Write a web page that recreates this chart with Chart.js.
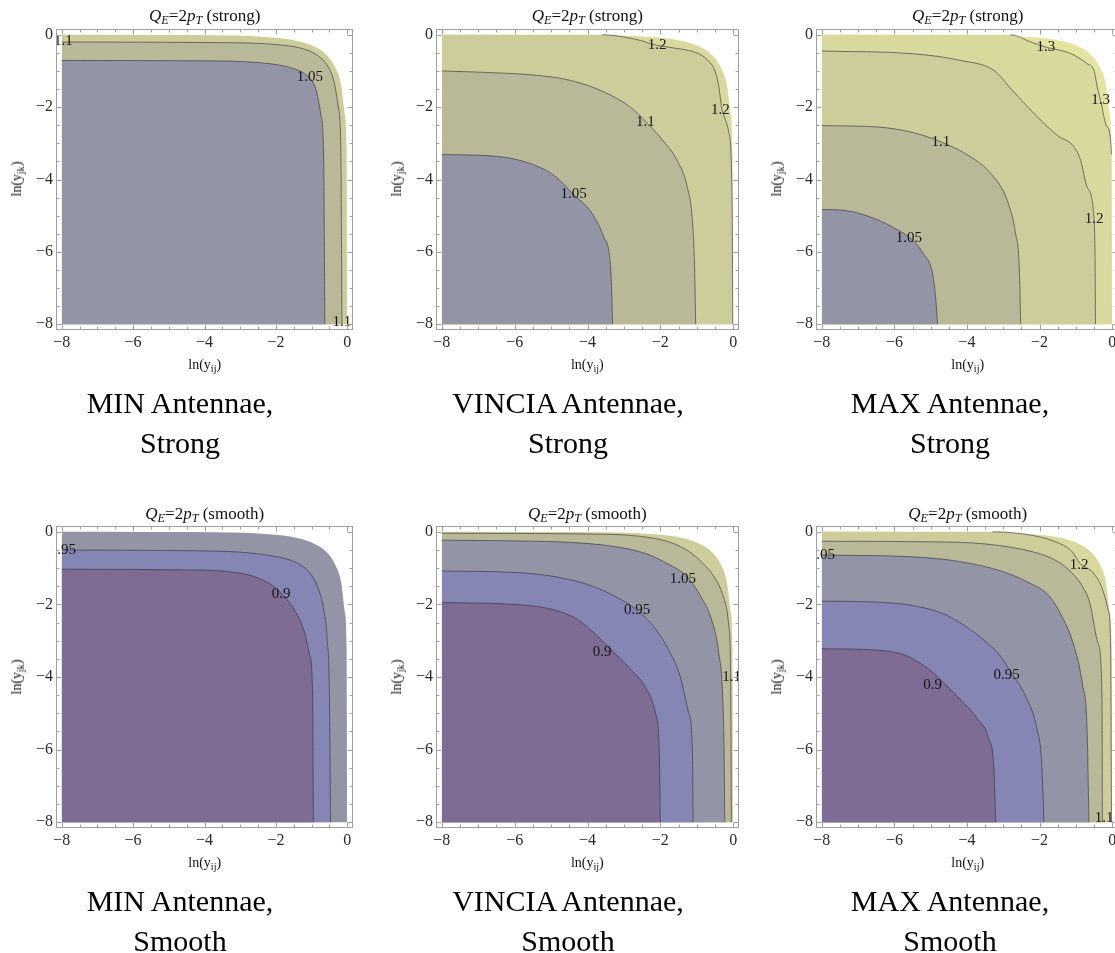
<!DOCTYPE html>
<html>
<head>
<meta charset="utf-8">
<script src="https://cdn.jsdelivr.net/npm/chart.js@4/dist/chart.umd.min.js"></script>
<style>
  body { margin: 0; background: #fff; }
  #page { position: relative; width: 1115px; height: 953px; overflow: hidden; background: #fff;
          font-family: "Liberation Serif", "Times New Roman", serif; color: #111; }
  canvas { position: absolute; }
  .txt { position: absolute; white-space: nowrap; transform: translateX(-50%); }
  .ttl { font-size: 17px; line-height: 17px; }
  .axl { font-size: 14px; line-height: 14px; }
  .cap { font-size: 30px; line-height: 30px; color: #000; }
  sub { font-size: 72%; vertical-align: -0.28em; line-height: 0; }
  .rot { transform: translate(-50%, -50%) rotate(-90deg); }
</style>
</head>
<body>
<div id="page"></div>
<script>
// tick values on every axis
const majorTicks = [-8, -6, -4, -2, 0];
const minorTicks = [-7.5, -7, -6.5, -5.5, -5, -4.5, -3.5, -3, -2.5, -1.5, -1, -0.5];

// captions and titles
const antennaNames = ['MIN Antennae,', 'VINCIA Antennae,', 'MAX Antennae,'];
const captionKinds = ['Strong', 'Smooth'];
const titleKinds = ['strong', 'smooth'];

// outer edge of the phase space (white beyond it)
const edge = [[-8,0],[-3.2,-0.02],[-2.2,-0.07],[-1.4,-0.17],[-0.9,-0.34],[-0.57,-0.57],[-0.34,-0.9],[-0.17,-1.4],[-0.07,-2.2],[-0.02,-3.2],[0,-8]];

// MIN antennae, strong
const minStrong105 = [[-8,-0.71],[-4.2,-0.72],[-2.6,-0.76],[-1.7,-0.88],[-1.3,-1.02],[-1.05,-1.2],[-0.88,-1.5],[-0.74,-2.2],[-0.66,-3.5],[-0.63,-8]];
const minStrong110 = [[-8,-0.2],[-3.2,-0.22],[-2.0,-0.27],[-1.3,-0.37],[-0.85,-0.56],[-0.56,-0.85],[-0.37,-1.3],[-0.25,-2.0],[-0.18,-3.2],[-0.15,-8]];
const minStrongLabels = [['1.1',-7.95,-0.17],['1.05',-1.05,-1.17],['1.1',-0.15,-7.93]];

// VINCIA antennae, strong
const vinStrong105 = [[-8,-3.31],[-6.5,-3.36],[-5.6,-3.55],[-4.9,-3.9],[-4.4,-4.4],[-3.9,-4.9],[-3.55,-5.6],[-3.36,-6.5],[-3.31,-8]];
const vinStrong110 = [[-8,-1.0],[-6.3,-1.06],[-5.4,-1.12],[-4.47,-1.26],[-3.55,-1.58],[-2.82,-2.0],[-2.4,-2.4],[-1.95,-2.9],[-1.54,-3.47],[-1.26,-4.21],[-1.12,-5.13],[-1.06,-6.42],[-1.03,-8]];
const vinStrong120 = [[-8,0],[-3.6,0],[-2.7,-0.12],[-2.09,-0.29],[-1.4,-0.4],[-1.0,-0.5],[-0.7,-0.7],[-0.5,-1.0],[-0.4,-1.4],[-0.3,-2.09],[-0.12,-2.7],[-0.03,-4.5],[-0.01,-8]];
const vinStrongLabels = [['1.2',-2.09,-0.29],['1.2',-0.35,-2.09],['1.1',-2.41,-2.41],['1.05',-4.38,-4.39]];

// MAX antennae, strong
const maxStrong105 = [[-8,-4.83],[-7.4,-4.85],[-6.5,-5.1],[-5.9,-5.4],[-5.54,-5.64],[-5.2,-6.05],[-4.95,-6.6],[-4.86,-7.3],[-4.81,-8]];
const maxStrong110 = [[-8,-2.51],[-6.46,-2.55],[-5.54,-2.69],[-4.72,-2.96],[-3.89,-3.38],[-3.34,-3.84],[-2.89,-4.58],[-2.66,-5.5],[-2.56,-6.42],[-2.52,-8]];
const maxStrong120 = [[-8,-0.45],[-5.54,-0.52],[-4.17,-0.71],[-3.25,-0.99],[-2.79,-1.49],[-2.15,-2.18],[-1.51,-2.78],[-1.05,-3.1],[-0.87,-3.47],[-0.69,-4.21],[-0.5,-5.08],[-0.47,-6.42],[-0.46,-8]];
const maxStrong130 = [[-8,0],[-2.8,0],[-2.24,-0.2],[-1.83,-0.34],[-1.14,-0.52],[-0.69,-0.8],[-0.5,-0.99],[-0.41,-1.45],[-0.32,-1.81],[-0.14,-2.55],[-0.02,-3.3],[0,-8]];
const maxStrongLabels = [['1.3',-1.83,-0.34],['1.3',-0.32,-1.81],['1.1',-4.72,-2.96],['1.2',-0.5,-5.08],['1.05',-5.6,-5.62]];

// MIN antennae, smooth
const minSmooth090 = [[-8,-1.03],[-4.5,-1.05],[-3.3,-1.1],[-2.5,-1.27],[-2.0,-1.55],[-1.7,-1.85],[-1.45,-2.2],[-1.22,-2.7],[-1.05,-3.4],[-0.97,-4.5],[-0.95,-8]];
const minSmooth095 = [[-8,-0.5],[-4.5,-0.52],[-3.0,-0.56],[-2.2,-0.65],[-1.6,-0.78],[-1.25,-0.95],[-1.0,-1.2],[-0.8,-1.6],[-0.65,-2.2],[-0.56,-3.0],[-0.5,-4.5],[-0.47,-8]];
const minSmoothLabels = [['0.95',-7.97,-0.5],['0.9',-1.85,-1.72]];

// VINCIA antennae, smooth
const vinSmooth090 = [[-8,-1.95],[-6,-2.0],[-5,-2.13],[-4.3,-2.4],[-3.75,-2.85],[-3.3,-3.3],[-2.85,-3.75],[-2.4,-4.3],[-2.13,-5],[-2.03,-6],[-2.0,-8]];
const vinSmooth095 = [[-8,-1.08],[-6,-1.12],[-5,-1.22],[-4,-1.45],[-3.2,-1.8],[-2.64,-2.16],[-2.16,-2.64],[-1.8,-3.2],[-1.45,-4],[-1.22,-5],[-1.12,-6],[-1.1,-8]];
const vinSmooth105 = [[-8,-0.23],[-6,-0.25],[-4.5,-0.29],[-3.3,-0.4],[-2.4,-0.6],[-1.8,-0.88],[-1.25,-1.25],[-0.88,-1.8],[-0.6,-2.4],[-0.4,-3.3],[-0.29,-4.5],[-0.25,-6],[-0.23,-8]];
const vinSmooth110 = [[-8,-0.04],[-4,-0.06],[-2.6,-0.12],[-1.7,-0.3],[-1.2,-0.55],[-0.85,-0.85],[-0.55,-1.2],[-0.3,-1.7],[-0.12,-2.6],[-0.07,-4],[-0.05,-8]];
const vinSmoothLabels = [['1.05',-1.38,-1.3],['0.95',-2.64,-2.16],['0.9',-3.6,-3.31],['1.1',-0.04,-4.0]];

// MAX antennae, smooth
const maxSmooth090 = [[-8,-3.22],[-6.5,-3.26],[-5.7,-3.4],[-5.1,-3.75],[-4.7,-4.1],[-4.4,-4.4],[-4.1,-4.7],[-3.75,-5.1],[-3.4,-5.7],[-3.26,-6.5],[-3.21,-8]];
const maxSmooth095 = [[-8,-1.91],[-6.4,-1.94],[-5.4,-2.05],[-4.6,-2.28],[-3.9,-2.7],[-3.4,-3.1],[-3.1,-3.4],[-2.8,-3.85],[-2.35,-4.6],[-2.08,-5.4],[-1.94,-6.4],[-1.88,-8]];
const maxSmooth105 = [[-8,-0.64],[-5.5,-0.69],[-4.2,-0.82],[-3.0,-1.1],[-2.3,-1.4],[-1.75,-1.75],[-1.4,-2.3],[-1.1,-3.0],[-0.82,-4.2],[-0.69,-5.5],[-0.64,-8]];
const maxSmooth110 = [[-8,-0.26],[-4.6,-0.28],[-3.1,-0.38],[-1.95,-0.62],[-1.5,-0.82],[-1.12,-1.12],[-0.82,-1.5],[-0.62,-1.95],[-0.38,-3.1],[-0.28,-4.6],[-0.27,-8]];
const maxSmooth120 = [[-8,0],[-3.3,0],[-2.2,-0.1],[-1.5,-0.3],[-1.1,-0.55],[-0.88,-0.88],[-0.55,-1.1],[-0.3,-1.5],[-0.1,-2.2],[-0.04,-3.3],[-0.02,-8]];
const maxSmoothLabels = [['1.05',-8.0,-0.64],['1.2',-0.91,-0.92],['0.95',-2.91,-3.95],['0.9',-4.95,-4.21],['1.1',-0.22,-7.88]];

// region colours, from low to high values
const cPurple = '#7e6c94';
const cBlue = '#8686b4';
const cGray = '#9494a7';
const cOlive = '#b9b899';
const cKhaki = '#cdcc9b';
const cYellow = '#dad99d';
const cPale = '#e4e3a0';
const lineColor = 'rgba(45,45,55,0.6)';
const frameColor = '#a0a0a0';

// panel layout (pixel of x=-8 / y=0 and pixels per unit)
const cols = [{x0: 61.7, sx: 35.75}, {x0: 441.7, sx: 36.4}, {x0: 822.3, sx: 36.35}];
const rows = [{y0: 34.3, sy: 36.2}, {y0: 531.7, sy: 36.25}];
const capCenters = [180, 568, 950];
const capBase = [413, 911];

const panels = [
  {col: 0, row: 0, outer: cKhaki, lines: [[minStrong105, cGray], [minStrong110, cOlive]], labels: minStrongLabels},
  {col: 1, row: 0, outer: cYellow, lines: [[vinStrong105, cGray], [vinStrong110, cOlive], [vinStrong120, cKhaki]], labels: vinStrongLabels},
  {col: 2, row: 0, outer: cPale, lines: [[maxStrong105, cGray], [maxStrong110, cOlive], [maxStrong120, cKhaki], [maxStrong130, cYellow]], labels: maxStrongLabels},
  {col: 0, row: 1, outer: cGray, lines: [[minSmooth090, cPurple], [minSmooth095, cBlue]], labels: minSmoothLabels},
  {col: 1, row: 1, outer: cKhaki, lines: [[vinSmooth090, cPurple], [vinSmooth095, cBlue], [vinSmooth105, cGray], [vinSmooth110, cOlive]], labels: vinSmoothLabels},
  {col: 2, row: 1, outer: cYellow, lines: [[maxSmooth090, cPurple], [maxSmooth095, cBlue], [maxSmooth105, cGray], [maxSmooth110, cOlive], [maxSmooth120, cKhaki]], labels: maxSmoothLabels}
];

Chart.defaults.font.family = '"Liberation Serif", "Times New Roman", serif';

const page = document.getElementById('page');
const fmt = v => (v < 0 ? '\u2212' + Math.abs(v) : String(v));
const toXY = pts => pts.map(q => ({x: q[0], y: q[1]}));

// hide the stroke where a contour runs along the plot edge
function edgeSeg(ctx) {
  const a = ctx.p0.parsed, b = ctx.p1.parsed;
  if (Math.abs(a.y) < 0.03 && Math.abs(b.y) < 0.03) return 'rgba(0,0,0,0)';
  if (Math.abs(a.x) < 0.03 && Math.abs(b.x) < 0.03) return 'rgba(0,0,0,0)';
  return undefined;
}

// frame with inward ticks on all four sides
const framePlugin = {
  id: 'frame',
  afterDraw(chart) {
    const {ctx, chartArea: a, scales: {x, y}} = chart;
    const L = Math.round(a.left) + 0.5, R = Math.round(a.right) - 0.5;
    const T = Math.round(a.top) + 0.5, B = Math.round(a.bottom) - 0.5;
    ctx.save();
    ctx.strokeStyle = frameColor;
    ctx.lineWidth = 1;
    ctx.strokeRect(L, T, R - L, B - T);
    ctx.beginPath();
    const mark = (v, len) => {
      const px = Math.round(x.getPixelForValue(v)) + 0.5;
      ctx.moveTo(px, B); ctx.lineTo(px, B - len);
      ctx.moveTo(px, T); ctx.lineTo(px, T + len);
      const py = Math.round(y.getPixelForValue(v)) + 0.5;
      ctx.moveTo(L, py); ctx.lineTo(L + len, py);
      ctx.moveTo(R, py); ctx.lineTo(R - len, py);
    };
    majorTicks.forEach(v => mark(v, 5));
    minorTicks.forEach(v => mark(v, 3));
    ctx.stroke();
    ctx.restore();
  }
};

function labelPlugin(items) {
  return {
    id: 'contourLabels',
    afterDatasetsDraw(chart) {
      const {ctx, chartArea: a, scales: {x, y}} = chart;
      ctx.save();
      ctx.beginPath();
      ctx.rect(a.left, a.top, a.right - a.left, a.bottom - a.top);
      ctx.clip();
      ctx.font = '15px "Liberation Serif", serif';
      ctx.fillStyle = '#151515';
      ctx.textAlign = 'center';
      ctx.textBaseline = 'middle';
      items.forEach(([t, vx, vy]) => ctx.fillText(t, x.getPixelForValue(vx), y.getPixelForValue(vy)));
      ctx.restore();
    }
  };
}

function addText(cls, html, left, top) {
  const d = document.createElement('div');
  d.className = 'txt ' + cls;
  d.innerHTML = html;
  d.style.left = left + 'px';
  d.style.top = top + 'px';
  page.appendChild(d);
  return d;
}

panels.forEach(p => {
  const c = cols[p.col], r = rows[p.row];
  const W = 8.32 * c.sx, H = 8.32 * r.sy;
  const areaLeft = c.x0 - 0.16 * c.sx, areaTop = r.y0 - 0.16 * r.sy;
  const cv = document.createElement('canvas');
  const cw = Math.round(45 + W + 5), ch = Math.round(10 + H + 25 + 5);
  cv.width = cw; cv.height = ch;
  cv.style.width = cw + 'px'; cv.style.height = ch + 'px';
  cv.style.left = Math.round(areaLeft - 45) + 'px';
  cv.style.top = Math.round(areaTop - 10) + 'px';
  page.appendChild(cv);

  // contour strokes first (drawn last, on top), then the filled regions inner to outer
  const strokes = p.lines.map(([pts]) => ({
    data: toXY(pts),
    borderColor: lineColor,
    borderWidth: 1,
    fill: false,
    segment: {borderColor: edgeSeg}
  }));
  const fills = p.lines.map(([pts, color]) => ({
    data: toXY(pts),
    backgroundColor: color,
    borderWidth: 0,
    borderColor: 'rgba(0,0,0,0)',
    fill: {value: -8}
  }));
  fills.push({
    data: toXY(edge),
    backgroundColor: p.outer,
    borderWidth: 0,
    borderColor: 'rgba(0,0,0,0)',
    fill: {value: -8}
  });

  const axisTicks = {color: '#2a2a2a', font: {size: 16}, autoSkip: false, maxRotation: 0, callback: fmt};
  new Chart(cv, {
    type: 'line',
    data: {datasets: strokes.concat(fills)},
    options: {
      responsive: false,
      animation: false,
      devicePixelRatio: 1,
      layout: {padding: {left: 5, top: 10, right: 5, bottom: 5}},
      plugins: {legend: {display: false}, tooltip: {enabled: false}},
      elements: {point: {radius: 0}, line: {cubicInterpolationMode: 'monotone'}},
      scales: {
        x: {
          type: 'linear', min: -8.16, max: 0.16,
          grid: {display: false, drawTicks: false}, border: {display: false},
          ticks: Object.assign({padding: 3}, axisTicks),
          afterBuildTicks: s => { s.ticks = majorTicks.map(v => ({value: v})); },
          afterFit: s => { s.height = 25; s.paddingLeft = 0; s.paddingRight = 0; s.paddingTop = 0; s.paddingBottom = 0; }
        },
        y: {
          type: 'linear', min: -8.16, max: 0.16,
          grid: {display: false, drawTicks: false}, border: {display: false},
          ticks: Object.assign({padding: 3}, axisTicks),
          afterBuildTicks: s => { s.ticks = majorTicks.map(v => ({value: v})); },
          afterFit: s => { s.width = 40; s.paddingLeft = 0; s.paddingRight = 0; s.paddingTop = 0; s.paddingBottom = 0; }
        }
      }
    },
    plugins: [labelPlugin(p.labels), framePlugin]
  });

  // title, axis labels
  const cx = c.x0 + 4 * c.sx;
  const cy = r.y0 + 4 * r.sy;
  addText('ttl', '<i>Q</i><sub><i>E</i></sub>=2<i>p</i><sub><i>T</i></sub> (' + titleKinds[p.row] + ')', cx, r.y0 - 27);
  addText('axl', 'ln(y<sub>ij</sub>)', cx, r.y0 + 8 * r.sy + 34);
  addText('axl rot', 'ln(y<sub>jk</sub>)', areaLeft - 39, cy);
});

// captions under each panel
[0, 1].forEach(row => {
  antennaNames.forEach((name, i) => {
    addText('cap', name, capCenters[i], capBase[row] - 25);
    addText('cap', captionKinds[row], capCenters[i], capBase[row] + 40 - 25);
  });
});
</script>
</body>
</html>
